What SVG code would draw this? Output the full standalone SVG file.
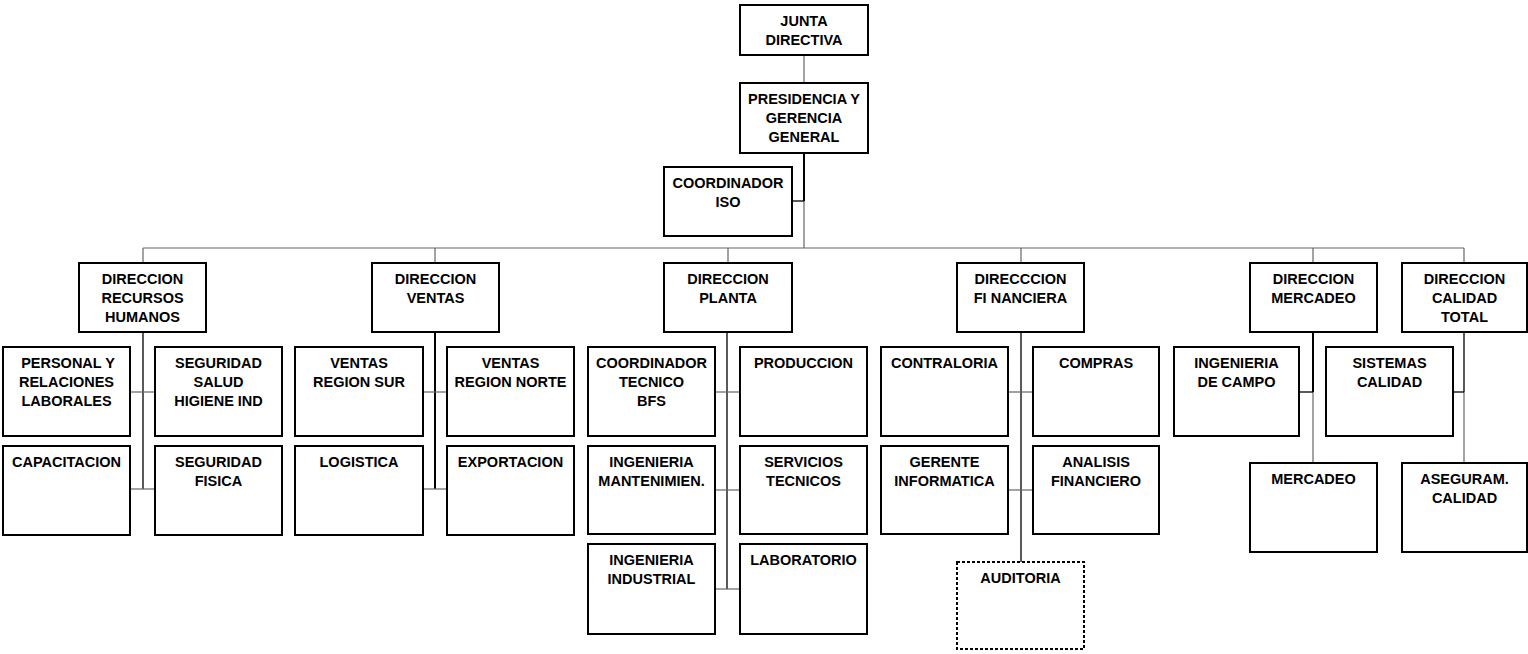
<svg xmlns="http://www.w3.org/2000/svg" width="1528" height="654" viewBox="0 0 1528 654">
<style>
.box{fill:#fff;stroke:#000;stroke-width:2}
.dash{fill:#fff;stroke:#000;stroke-width:2;stroke-dasharray:3 2}
text{font-family:"Liberation Sans",Arial,sans-serif;font-weight:bold;font-size:14.5px;fill:#000;text-anchor:middle}
.k{stroke:#000;stroke-width:1.3;fill:none}
.kb{stroke:#000;stroke-width:2;fill:none}
.g{stroke:#666;stroke-width:1.2;fill:none}
</style>
<rect width="1528" height="654" fill="#fff"/>
<g id="connectors">
<line class="g" x1="804" y1="55" x2="804" y2="83"/>
<line class="kb" x1="804" y1="153" x2="804" y2="201"/>
<line class="g" x1="804" y1="201" x2="804" y2="248"/>
<line class="k" x1="792" y1="201" x2="804" y2="201"/>
<line class="g" x1="143" y1="248" x2="1464" y2="248"/>
<line class="g" x1="143" y1="248" x2="143" y2="263"/>
<line class="g" x1="435" y1="248" x2="435" y2="263"/>
<line class="g" x1="728" y1="248" x2="728" y2="263"/>
<line class="g" x1="1021" y1="248" x2="1021" y2="263"/>
<line class="g" x1="1313" y1="248" x2="1313" y2="263"/>
<line class="g" x1="1464" y1="248" x2="1464" y2="263"/>
<line class="k" x1="143" y1="332" x2="143" y2="489"/>
<line class="g" x1="130" y1="392" x2="155" y2="392"/>
<line class="g" x1="130" y1="489" x2="155" y2="489"/>
<line class="kb" x1="435" y1="332" x2="435" y2="489"/>
<line class="g" x1="423" y1="392" x2="447" y2="392"/>
<line class="g" x1="423" y1="489" x2="447" y2="489"/>
<line class="k" x1="727" y1="332" x2="727" y2="589"/>
<line class="g" x1="715" y1="392" x2="740" y2="392"/>
<line class="g" x1="715" y1="490" x2="740" y2="490"/>
<line class="g" x1="715" y1="589" x2="740" y2="589"/>
<line class="k" x1="1021" y1="332" x2="1021" y2="562"/>
<line class="g" x1="1008" y1="392" x2="1033" y2="392"/>
<line class="g" x1="1008" y1="490" x2="1033" y2="490"/>
<line class="kb" x1="1313" y1="332" x2="1313" y2="392"/>
<line class="g" x1="1313" y1="392" x2="1313" y2="463"/>
<line class="k" x1="1299" y1="392" x2="1313" y2="392"/>
<line class="k" x1="1464" y1="332" x2="1464" y2="392"/>
<line class="g" x1="1464" y1="392" x2="1464" y2="463"/>
<line class="k" x1="1453" y1="392" x2="1464" y2="392"/>
</g>
<g id="junta"><rect class="box" x="740" y="5" width="128" height="50"/><text x="804" y="26">JUNTA</text><text x="804" y="45">DIRECTIVA</text></g>
<g id="presidencia"><rect class="box" x="740" y="83" width="128" height="70"/><text x="804" y="104">PRESIDENCIA Y</text><text x="804" y="123">GERENCIA</text><text x="804" y="142">GENERAL</text></g>
<g id="coord-iso"><rect class="box" x="664" y="167" width="128" height="69"/><text x="728" y="188">COORDINADOR</text><text x="728" y="207">ISO</text></g>
<g id="dir-rrhh"><rect class="box" x="79" y="263" width="127" height="69"/><text x="142.5" y="284">DIRECCION</text><text x="142.5" y="303">RECURSOS</text><text x="142.5" y="322">HUMANOS</text></g>
<g id="personal"><rect class="box" x="3" y="347" width="127" height="89"/><text x="68" y="368">PERSONAL Y</text><text x="66.5" y="387">RELACIONES</text><text x="66.5" y="406">LABORALES</text></g>
<g id="seg-salud"><rect class="box" x="155" y="347" width="127" height="89"/><text x="218.5" y="368">SEGURIDAD</text><text x="218.5" y="387">SALUD</text><text x="218.5" y="406">HIGIENE IND</text></g>
<g id="capacitacion"><rect class="box" x="3" y="446" width="127" height="89"/><text x="66.5" y="467">CAPACITACION</text></g>
<g id="seg-fisica"><rect class="box" x="155" y="446" width="127" height="89"/><text x="218.5" y="467">SEGURIDAD</text><text x="218.5" y="486">FISICA</text></g>
<g id="dir-ventas"><rect class="box" x="372" y="263" width="127" height="69"/><text x="435.5" y="284">DIRECCION</text><text x="435.5" y="303">VENTAS</text></g>
<g id="ventas-sur"><rect class="box" x="295" y="347" width="128" height="89"/><text x="359" y="368">VENTAS</text><text x="359" y="387">REGION SUR</text></g>
<g id="ventas-norte"><rect class="box" x="447" y="347" width="127" height="89"/><text x="510.5" y="368">VENTAS</text><text x="510.5" y="387">REGION NORTE</text></g>
<g id="logistica"><rect class="box" x="295" y="446" width="128" height="89"/><text x="359" y="467">LOGISTICA</text></g>
<g id="exportacion"><rect class="box" x="447" y="446" width="127" height="89"/><text x="510.5" y="467">EXPORTACION</text></g>
<g id="dir-planta"><rect class="box" x="664" y="263" width="128" height="69"/><text x="728" y="284">DIRECCION</text><text x="728" y="303">PLANTA</text></g>
<g id="coord-tecnico"><rect class="box" x="588" y="347" width="127" height="89"/><text x="651.5" y="368">COORDINADOR</text><text x="651.5" y="387">TECNICO</text><text x="651.5" y="406">BFS</text></g>
<g id="produccion"><rect class="box" x="740" y="347" width="127" height="89"/><text x="803.5" y="368">PRODUCCION</text></g>
<g id="ing-mant"><rect class="box" x="588" y="446" width="127" height="88"/><text x="651.5" y="467">INGENIERIA</text><text x="651.5" y="486">MANTENIMIEN.</text></g>
<g id="serv-tecnicos"><rect class="box" x="740" y="446" width="127" height="88"/><text x="803.5" y="467">SERVICIOS</text><text x="803.5" y="486">TECNICOS</text></g>
<g id="ing-industrial"><rect class="box" x="588" y="544" width="127" height="90"/><text x="651.5" y="565">INGENIERIA</text><text x="651.5" y="584">INDUSTRIAL</text></g>
<g id="laboratorio"><rect class="box" x="740" y="544" width="127" height="90"/><text x="803.5" y="565">LABORATORIO</text></g>
<g id="dir-financiera"><rect class="box" x="957" y="263" width="127" height="69"/><text x="1020.5" y="284">DIRECCCION</text><text x="1020.5" y="303">FI NANCIERA</text></g>
<g id="contraloria"><rect class="box" x="881" y="347" width="127" height="89"/><text x="944.5" y="368">CONTRALORIA</text></g>
<g id="compras"><rect class="box" x="1033" y="347" width="126" height="89"/><text x="1096" y="368">COMPRAS</text></g>
<g id="gerente-inf"><rect class="box" x="881" y="446" width="127" height="88"/><text x="944.5" y="467">GERENTE</text><text x="944.5" y="486">INFORMATICA</text></g>
<g id="analisis"><rect class="box" x="1033" y="446" width="126" height="88"/><text x="1096" y="467">ANALISIS</text><text x="1096" y="486">FINANCIERO</text></g>
<g id="auditoria"><rect class="dash" x="957" y="562" width="127" height="87"/><text x="1020.5" y="583">AUDITORIA</text></g>
<g id="dir-mercadeo"><rect class="box" x="1250" y="263" width="127" height="69"/><text x="1313.5" y="284">DIRECCION</text><text x="1313.5" y="303">MERCADEO</text></g>
<g id="ing-campo"><rect class="box" x="1174" y="347" width="125" height="89"/><text x="1236.5" y="368">INGENIERIA</text><text x="1236.5" y="387">DE CAMPO</text></g>
<g id="mercadeo"><rect class="box" x="1250" y="463" width="127" height="89"/><text x="1313.5" y="484">MERCADEO</text></g>
<g id="dir-calidad"><rect class="box" x="1402" y="263" width="125" height="69"/><text x="1464.5" y="284">DIRECCION</text><text x="1464.5" y="303">CALIDAD</text><text x="1464.5" y="322">TOTAL</text></g>
<g id="sistemas-calidad"><rect class="box" x="1326" y="347" width="127" height="89"/><text x="1389.5" y="368">SISTEMAS</text><text x="1389.5" y="387">CALIDAD</text></g>
<g id="aseguram"><rect class="box" x="1402" y="463" width="125" height="89"/><text x="1464.5" y="484">ASEGURAM.</text><text x="1464.5" y="503">CALIDAD</text></g>
</svg>
